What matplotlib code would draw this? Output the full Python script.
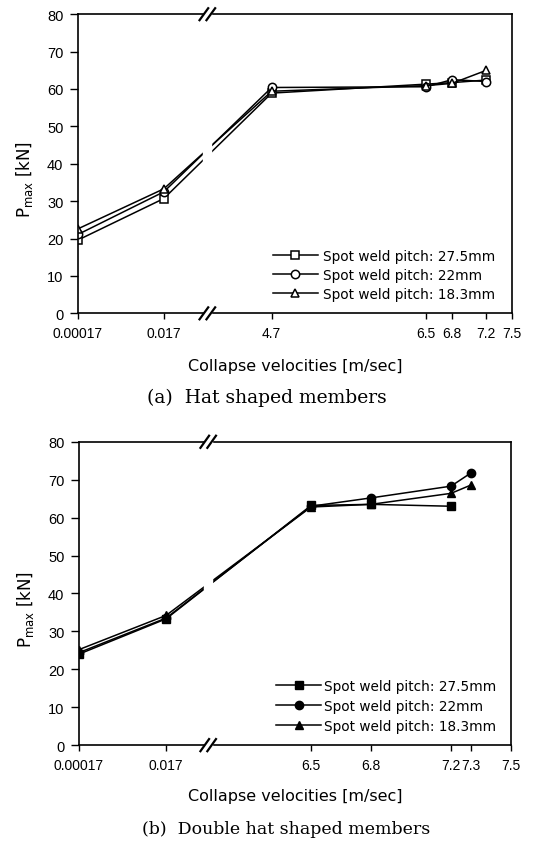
import numpy as np
import matplotlib
matplotlib.use("Agg")
import matplotlib.pyplot as plt
from matplotlib.lines import Line2D

plt.rcParams["font.family"] = ["DejaVu Sans"]

LABELS = ["Spot weld pitch: 27.5mm", "Spot weld pitch: 22mm", "Spot weld pitch: 18.3mm"]
MARKERS = ["s", "o", "^"]
TICK_FONT = ["Liberation Sans", "DejaVu Sans"]

# (a) hat shaped members
vel_a = [0.00017, 0.017, 4.7, 6.5, 6.8, 7.2]
pmax_a = {
    "27.5": [19.6, 30.7, 58.9, 61.3, 61.7, 62.4],
    "22": [21.1, 32.5, 60.4, 60.6, 62.5, 62.0],
    "18.3": [22.6, 33.3, 59.4, 60.9, 61.5, 65.0],
}
ticks_a = [0.00017, 0.017, 4.7, 6.5, 6.8, 7.2, 7.5]
ticklabels_a = ["0.00017", "0.017", "4.7", "6.5", "6.8", "7.2", "7.5"]

# (b) double hat shaped members
vel_b = {
    "27.5": [0.00017, 0.017, 6.5, 6.8, 7.2],
    "22": [0.00017, 0.017, 6.5, 6.8, 7.2, 7.3],
    "18.3": [0.00017, 0.017, 6.5, 6.8, 7.2, 7.3],
}
pmax_b = {
    "27.5": [24.0, 33.3, 63.2, 63.5, 63.0],
    "22": [24.4, 33.5, 63.0, 65.2, 68.3, 71.8],
    "18.3": [25.2, 34.2, 62.8, 63.5, 66.4, 68.6],
}
ticks_b = [0.00017, 0.017, 6.5, 6.8, 7.2, 7.3, 7.5]
ticklabels_b = ["0.00017", "0.017", "6.5", "6.8", "7.2", "7.3", "7.5"]

PITCHES = ["27.5", "22", "18.3"]


def broken_scale(lin_start, pos_017, decade):
    """piecewise axis: log below 0.017, linear bridge to lin_start, identity above"""
    l017 = np.log10(0.017)

    def fwd(v):
        v = np.asarray(v, dtype=float)
        vv = np.clip(v, 1e-9, None)
        low = pos_017 + decade * (np.log10(vv) - l017)
        mid = pos_017 + (v - 0.017) / (lin_start - 0.017) * (lin_start - pos_017)
        return np.where(v <= 0.017, low, np.where(v < lin_start, mid, v))

    def inv(p):
        p = np.asarray(p, dtype=float)
        low = 10 ** (l017 + (p - pos_017) / decade)
        mid = 0.017 + (p - pos_017) / (lin_start - pos_017) * (lin_start - 0.017)
        return np.where(p <= pos_017, low, np.where(p < lin_start, mid, p))

    return fwd, inv


def break_marks(ax, xf=0.298):
    for yf in (0.0, 1.0):
        ax.add_patch(plt.Rectangle((xf - 0.008, yf - 0.004), 0.016, 0.008,
                                   transform=ax.transAxes, color="white",
                                   zorder=4, clip_on=False))
        for dx in (-0.008, 0.008):
            ax.plot([xf + dx - 0.010, xf + dx + 0.010], [yf - 0.020, yf + 0.020],
                    transform=ax.transAxes, color="black", lw=1.6,
                    clip_on=False, zorder=5)
    # gap in the data lines
    ax.add_patch(plt.Rectangle((xf - 0.009, 0.02), 0.018, 0.96,
                               transform=ax.transAxes, color="white", zorder=2.3))


def style_axes(ax, ticks, ticklabels, xlab_y):
    ax.set_ylim(0, 80)
    ax.set_yticks(np.arange(0, 81, 10))
    ax.set_xticks(ticks)
    ax.set_xticklabels(ticklabels)
    ax.tick_params(direction="out", width=1.0)
    ax.tick_params(axis="x", length=4, pad=5, labelsize=10)
    ax.tick_params(axis="y", length=5.5, pad=5, labelsize=10.5)
    for lab in ax.get_xticklabels() + ax.get_yticklabels():
        lab.set_family(TICK_FONT)
    for s in ax.spines.values():
        s.set_linewidth(1.2)
    ax.set_ylabel(r"P$_{\rm max}$ [kN]", fontsize=12)
    ax.yaxis.set_label_coords(-0.10, 0.45)
    ax.set_xlabel("Collapse velocities [m/sec]", fontsize=11.5)
    ax.xaxis.set_label_coords(0.5, xlab_y)


fig = plt.figure(figsize=(5.34, 8.45), dpi=100)

ax1 = fig.add_axes([0.146, 0.628, 0.813, 0.354])
ax1.set_xscale("function", functions=broken_scale(4.7, 3.444, 0.5))
for k, m in zip(PITCHES, MARKERS):
    ax1.plot(vel_a, pmax_a[k], marker=m, color="black", lw=1.1, ms=6,
             mfc="white", mec="black", mew=1.1)
ax1.set_xlim(0.00017, 7.5)
style_axes(ax1, ticks_a, ticklabels_a, -0.15)
break_marks(ax1)
h1 = [Line2D([], [], color="black", lw=1.1, marker=m, ms=6, mfc="white", mew=1.1)
      for m in MARKERS]
ax1.legend(h1, LABELS, loc="lower right", frameon=False, fontsize=9.8,
           handlelength=3.3, handletextpad=0.4, labelspacing=0.38,
           bbox_to_anchor=(0.99, 0.0))

ax2 = fig.add_axes([0.148, 0.117, 0.809, 0.359])
ax2.set_xscale("function", functions=broken_scale(6.5, 5.775, 0.2175))
for k, m in zip(PITCHES, MARKERS):
    ax2.plot(vel_b[k], pmax_b[k], marker=m, color="black", lw=1.1, ms=6,
             mfc="black", mec="black")
ax2.set_xlim(0.00017, 7.5)
style_axes(ax2, ticks_b, ticklabels_b, -0.142)
break_marks(ax2, 0.299)
h2 = [Line2D([], [], color="black", lw=1.1, marker=m, ms=6, mfc="black")
      for m in MARKERS]
ax2.legend(h2, LABELS, loc="lower right", frameon=False, fontsize=9.8,
           handlelength=3.3, handletextpad=0.25, labelspacing=0.43,
           bbox_to_anchor=(0.995, 0.0))

fig.text(267 / 534, 1 - 398 / 845, "(a)  Hat shaped members", ha="center",
         va="center", fontsize=13.5, family=["DejaVu Serif"])
fig.text(286 / 534, 1 - 830 / 845, "(b)  Double hat shaped members", ha="center",
         va="center", fontsize=12.5, family=["DejaVu Serif"])

fig.savefig("out.png", dpi=100)
